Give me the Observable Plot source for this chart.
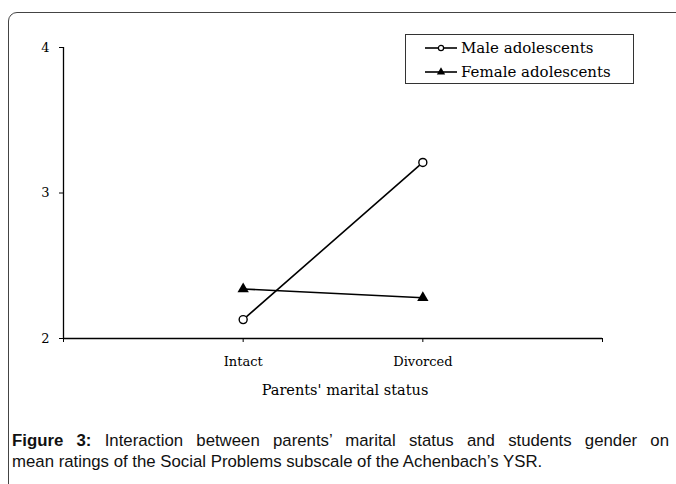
<!DOCTYPE html>
<html>
<head>
<meta charset="utf-8">
<script src="https://cdn.jsdelivr.net/npm/d3@7"></script>
<script src="https://cdn.jsdelivr.net/npm/@observablehq/plot@0.6"></script>
<style>
  html, body { margin: 0; padding: 0; background: #fff; }
  body { width: 676px; height: 484px; position: relative; overflow: hidden; }
  #frame { position: absolute; left: 8px; top: 12px; width: 720px; height: 520px;
           border: 1px solid #444; border-radius: 9px; box-sizing: border-box; }
  #chart { position: absolute; left: 0; top: 0; }
  #legend { position: absolute; left: 405px; top: 34px; width: 229px; height: 50px;
            border: 1px solid #333; box-sizing: border-box; background: #fff;
            font-family: "DejaVu Serif", serif; font-size: 15px; color: #000; }
  .lrow { position: absolute; left: 18px; height: 20px; display: flex; align-items: center; }
  .lrow svg { display: block; }
  .lrow span { margin-left: 3px; }
  #caption { position: absolute; left: 12px; top: 430px; width: 657px;
             font-family: "Liberation Sans", Arial, sans-serif; font-size: 16.8px; line-height: 21px; color: #111; }
  #caption .l1 { text-align: justify; text-align-last: justify; white-space: nowrap; }
</style>
</head>
<body>
<div id="frame"></div>
<div id="chart"></div>
<div id="legend"></div>
<div id="caption">
  <div class="l1"><b>Figure 3:</b> Interaction between parents’ marital status and students gender on</div>
  <div>mean ratings of the Social Problems subscale of the Achenbach’s YSR.</div>
</div>
<script>
// ---- data ----
const categories = ["Intact", "Divorced"];
const categoryPos = [1, 2];
const maleValues = [2.13, 3.21];
const femaleValues = [2.34, 2.28];
const seriesNames = ["Male adolescents", "Female adolescents"];
const yTicks = [2, 3, 4];
const xTicks = [0, 1, 2, 3];
const xLabel = "Parents' marital status";

const male = categories.map((c, i) => ({cat: c, x: categoryPos[i], y: maleValues[i]}));
const female = categories.map((c, i) => ({cat: c, x: categoryPos[i], y: femaleValues[i]}));
const labelOf = new Map(categoryPos.map((p, i) => [p, categories[i]]));

const serif = "DejaVu Serif";
const chart = Plot.plot({
  width: 676,
  height: 420,
  marginLeft: 63,
  marginRight: 74,
  marginTop: 47,
  marginBottom: 82,
  x: {domain: [0, 3]},
  y: {domain: [2, 4]},
  style: {fontFamily: serif, fontSize: "13px", color: "#000", background: "transparent"},
  marks: [
    Plot.ruleX([0], {stroke: "#000", strokeWidth: 1.3}),
    Plot.ruleY([2], {stroke: "#000", strokeWidth: 1.3}),
    Plot.axisY({ticks: yTicks, tickSize: 4, tickPadding: 10, label: null, tickFormat: d => String(d), fontSize: 13}),
    Plot.axisX({ticks: xTicks, tickSize: 4, tickPadding: 14, tickFormat: d => labelOf.get(d) ?? "",
                label: null, fontSize: 13}),
    Plot.text([xLabel], {text: d => d, frameAnchor: "bottom", dy: 56, dx: 12, fontSize: 14.5, fill: "#000"}),
    Plot.line(male, {x: "x", y: "y", stroke: "#000", strokeWidth: 1.6}),
    Plot.line(female, {x: "x", y: "y", stroke: "#000", strokeWidth: 1.6}),
    Plot.dot(male, {x: "x", y: "y", r: 4, stroke: "#000", strokeWidth: 1.4, fill: "#fff", symbol: "circle"}),
    Plot.dot(female, {x: "x", y: "y", r: 4.2, fill: "#000", stroke: "none", symbol: "triangle"})
  ]
});
document.getElementById("chart").append(chart);

// legend
const legend = document.getElementById("legend");
const symbols = ["circle", "triangle"];
seriesNames.forEach((name, i) => {
  const row = document.createElement("div");
  row.className = "lrow";
  row.style.top = (i === 0 ? 3 : 27) + "px";
  const svg = d3.create("svg").attr("width", 34).attr("height", 14);
  svg.append("line").attr("x1", 1).attr("x2", 33).attr("y1", 7).attr("y2", 7).attr("stroke", "#000").attr("stroke-width", 1.6);
  if (symbols[i] === "circle") {
    svg.append("circle").attr("cx", 17).attr("cy", 7).attr("r", 2.6).attr("fill", "#fff").attr("stroke", "#000").attr("stroke-width", 1.2);
  } else {
    svg.append("path").attr("d", d3.symbol(d3.symbolTriangle, 30)()).attr("transform", "translate(17,7)").attr("fill", "#000");
  }
  row.append(svg.node());
  const span = document.createElement("span");
  span.textContent = name;
  row.append(span);
  legend.append(row);
});
</script>
</body>
</html>
